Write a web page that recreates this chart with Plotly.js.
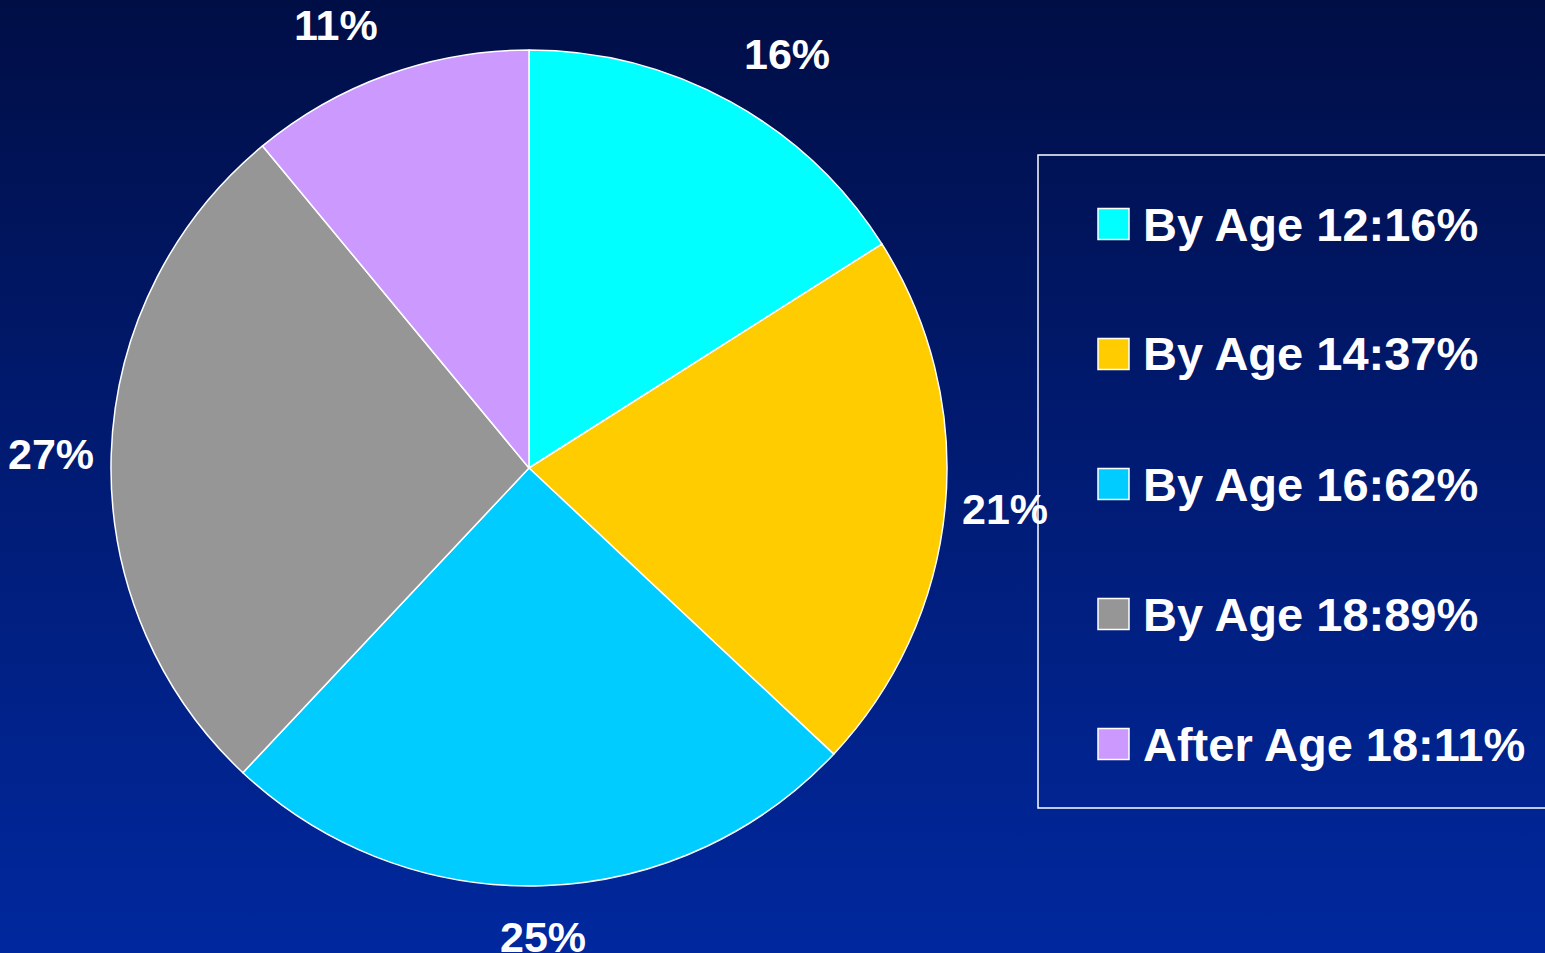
<!DOCTYPE html>
<html>
<head>
<meta charset="utf-8">
<script src="https://cdn.plot.ly/plotly-3.0.1.min.js"></script>
<style>
  html, body { margin: 0; padding: 0; width: 1545px; height: 953px; overflow: hidden; }
  body { background: linear-gradient(to bottom, #000e46 0%, #001a70 45%, #00289e 100%); }
  #chart { width: 1545px; height: 953px; }
</style>
</head>
<body>
<div id="chart"></div>
<script>
// ---- data ----
const categories = ["By Age 12", "By Age 14", "By Age 16", "By Age 18", "After Age 18"];
const sliceValues = [16, 21, 25, 27, 11];
const cumulativeLabels = ["16%", "37%", "62%", "89%", "11%"];
const sliceColors = ["#00FFFF", "#FFCC00", "#00CCFF", "#969696", "#CC99FF"];

// ---- layout constants (pixels) ----
const W = 1545, H = 953;
const CX = 529, CY = 468, R = 418;
const GAP_CORNER = 26, GAP_SIDE = 16;
const FONT = "'Liberation Sans', Arial, Helvetica, sans-serif";

const px = x => x / W;
const py = y => 1 - y / H;

const trace = {
  type: "pie",
  labels: categories,
  values: sliceValues,
  sort: false,
  direction: "clockwise",
  rotation: 0,
  textinfo: "none",
  hoverinfo: "label+percent",
  marker: { colors: sliceColors, line: { color: "#FFFFFF", width: 1.5 } },
  domain: { x: [px(CX - R), px(CX + R)], y: [py(CY + R), py(CY - R)] },
  showlegend: false
};

// slice labels, positioned from the values
const total = sliceValues.reduce((a, b) => a + b, 0);
const annotations = [];
let acc = 0;
sliceValues.forEach((v, i) => {
  const mid = (acc + v / 2) / total * 2 * Math.PI;
  acc += v;
  const ux = Math.sin(mid), uy = -Math.cos(mid); // uy negative = up (screen)
  const eps = 0.3;
  const xa = ux > eps ? "left" : (ux < -eps ? "right" : "center");
  const ya = uy > eps ? "top" : (uy < -eps ? "bottom" : "middle");
  const gap = (ya === "middle") ? GAP_SIDE : GAP_CORNER;
  const x = CX + (R + gap) * ux, y = CY + (R + gap) * uy;
  annotations.push({
    xref: "paper", yref: "paper", x: px(x), y: py(y),
    xanchor: xa, yanchor: ya,
    text: "<b>" + Math.round(v / total * 100) + "%</b>",
    showarrow: false, borderpad: 0,
    font: { family: FONT, size: 43, color: "#FFFFFF" }
  });
});

// legend drawn as shapes + text
const shapes = [{
  type: "rect", xref: "paper", yref: "paper",
  x0: px(1038), x1: px(1560), y0: py(808), y1: py(155),
  line: { color: "#FFFFFF", width: 1.5 }, fillcolor: "rgba(0,0,0,0)"
}];
const LEG_Y0 = 224, LEG_STEP = 130, SQ = 31, SQ_X = 1098, TXT_X = 1142;
categories.forEach((c, i) => {
  const yc = LEG_Y0 + i * LEG_STEP;
  shapes.push({
    type: "rect", xref: "paper", yref: "paper",
    x0: px(SQ_X), x1: px(SQ_X + SQ), y0: py(yc + SQ / 2), y1: py(yc - SQ / 2),
    line: { color: "#FFFFFF", width: 1.5 }, fillcolor: sliceColors[i]
  });
  annotations.push({
    xref: "paper", yref: "paper", x: px(TXT_X), y: py(yc),
    xanchor: "left", yanchor: "middle",
    text: "<b>" + c + ":" + cumulativeLabels[i] + "</b>",
    showarrow: false, borderpad: 0,
    font: { family: FONT, size: 47, color: "#FFFFFF" }
  });
});

const layout = {
  width: W, height: H,
  margin: { l: 0, r: 0, t: 0, b: 0, pad: 0 },
  paper_bgcolor: "rgba(0,0,0,0)",
  plot_bgcolor: "rgba(0,0,0,0)",
  showlegend: false,
  annotations: annotations,
  shapes: shapes
};

Plotly.newPlot("chart", [trace], layout, { displayModeBar: false, staticPlot: true });
</script>
</body>
</html>
